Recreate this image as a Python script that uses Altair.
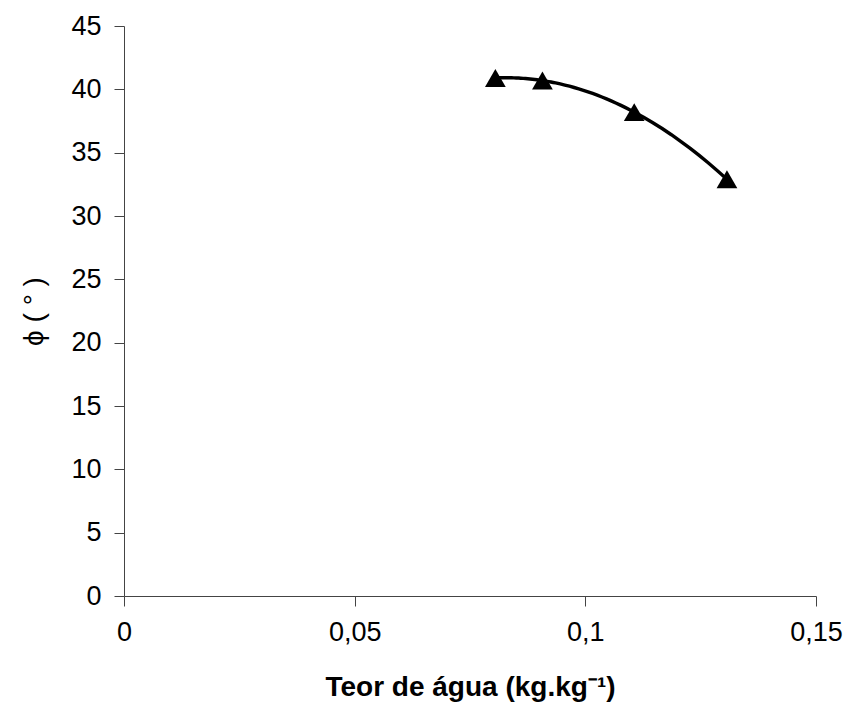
import altair as alt
import pandas as pd

teor = [0.0805, 0.0907, 0.1106, 0.1307]
phi = [40.9, 40.7, 38.2, 32.9]

df = pd.DataFrame({"teor": teor, "phi": phi})

FONT = "Liberation Sans"

x_enc = alt.X("teor:Q",
              scale=alt.Scale(domain=[0, 0.15], nice=False, zero=True),
              axis=alt.Axis(values=[0, 0.05, 0.1, 0.15],
                            labelExpr="replace(toString(datum.value), '.', ',')",
                            title="Teor de água (kg.kg⁻¹)",
                            titleFont=FONT, titleFontSize=28, titleFontWeight="bold",
                            titleColor="black", titlePadding=28,
                            labelFont=FONT, labelFontSize=27, labelColor="black",
                            labelPadding=13, tickSize=10, grid=False,
                            domainColor="#444", tickColor="#444", labelFlush=False))
y_enc = alt.Y("phi:Q",
              scale=alt.Scale(domain=[0, 45], nice=False),
              axis=alt.Axis(values=list(range(0, 50, 5)),
                            title="ϕ ( ° )", titleFont=FONT, titleFontSize=28,
                            titleFontWeight="normal", titleColor="black", titlePadding=22,
                            labelFont=FONT, labelFontSize=27, labelColor="black",
                            labelPadding=13, tickSize=10, grid=False,
                            domainColor="#444", tickColor="#444", labelFlush=False))

base = alt.Chart(df)

curve = base.transform_regression("teor", "phi", method="poly", order=2, extent=[teor[0], teor[-1]]).mark_line(
    color="black", strokeWidth=3.4).encode(x=x_enc, y=y_enc)

pts = base.mark_point(shape="triangle-up", filled=True, color="black", size=430, opacity=1).encode(
    x=x_enc, y=y_enc)

chart = (curve + pts).properties(
    width=692, height=570,
    background="white",
    autosize=alt.AutoSizeParams(type="none"),
    padding={"left": 124, "top": 26, "right": 33, "bottom": 124},
).configure_view(stroke=None)

chart.save("out.html", embed_options={"renderer": "svg", "actions": False})
